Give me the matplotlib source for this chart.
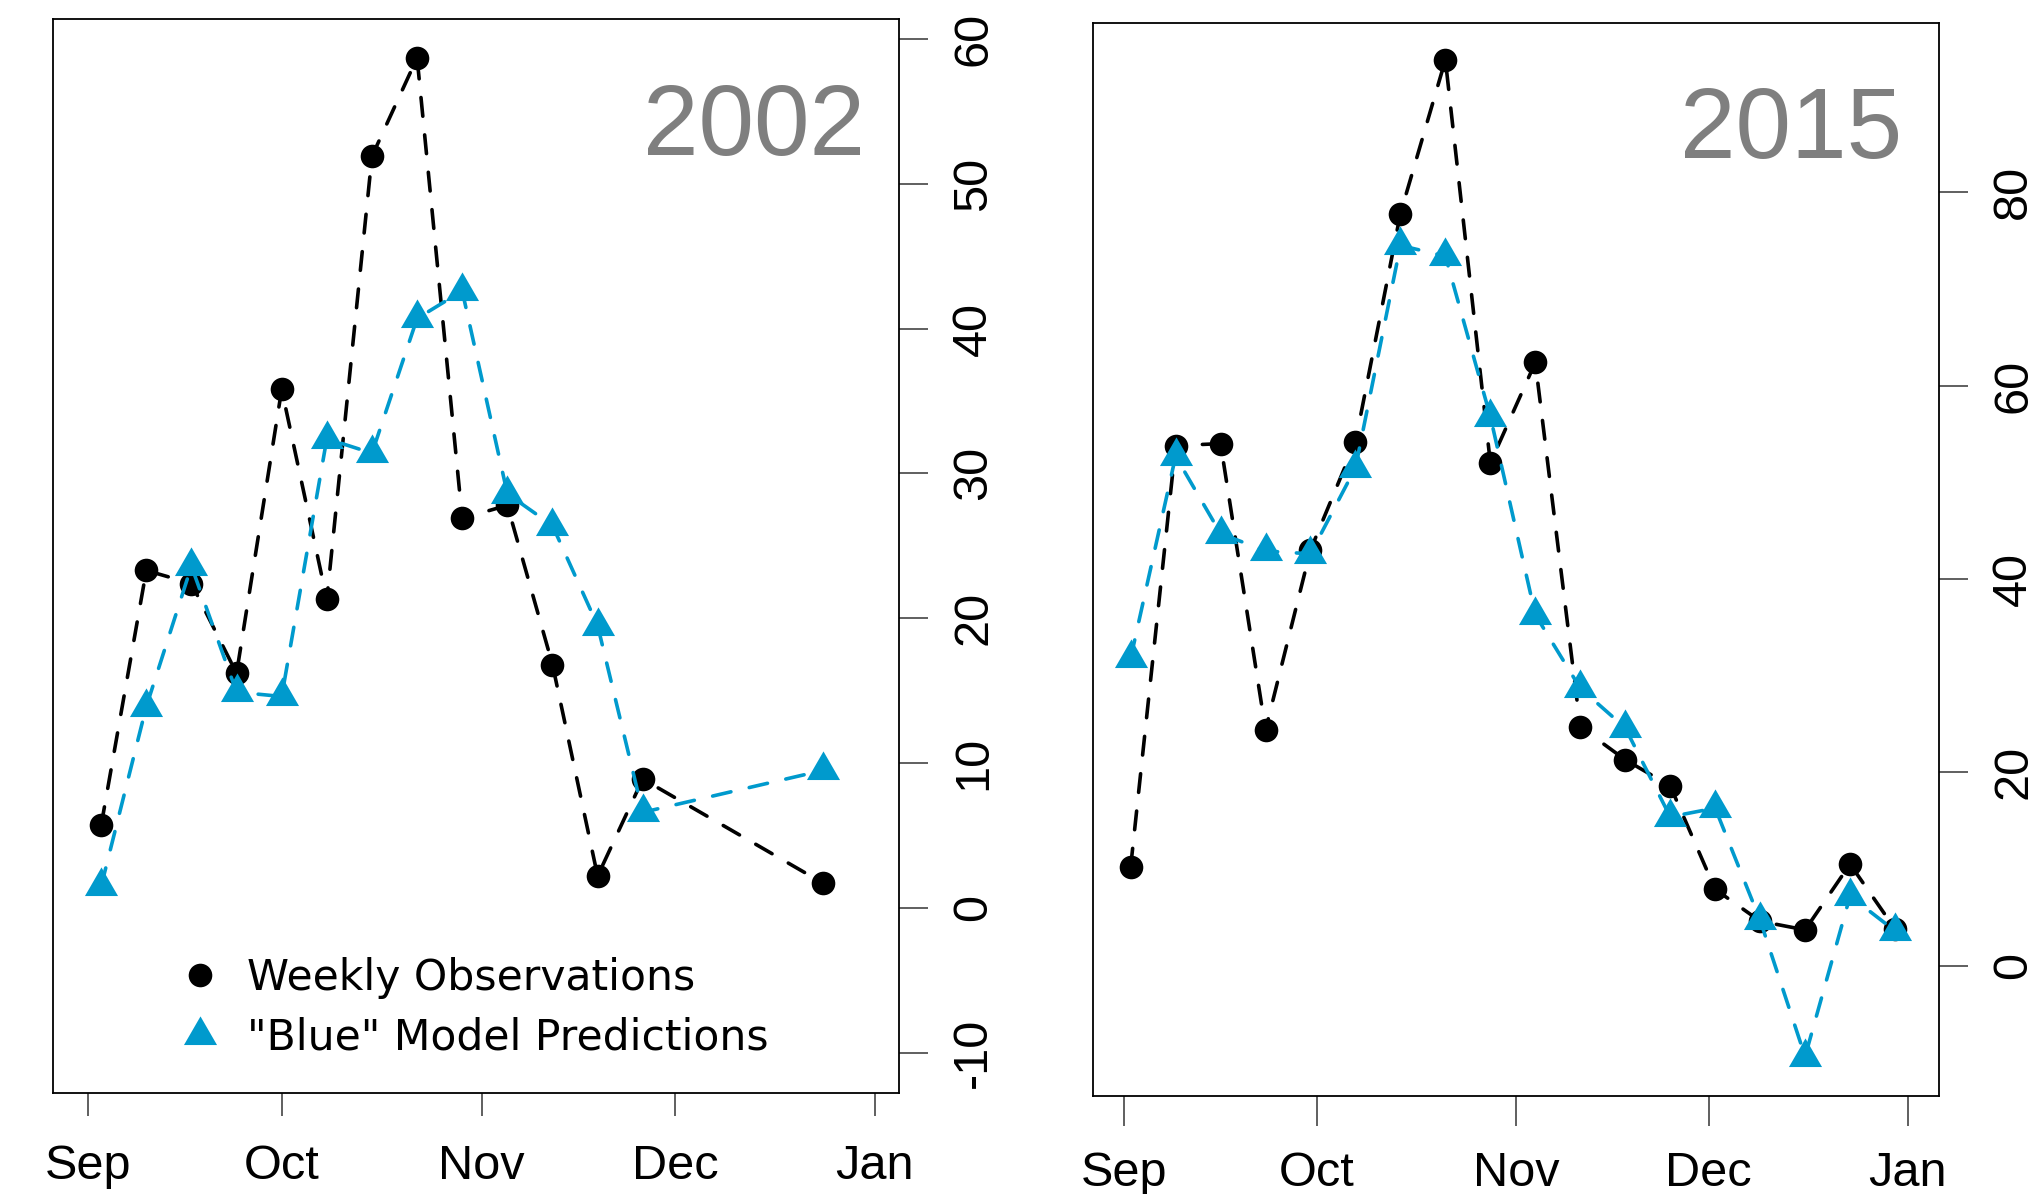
import matplotlib
matplotlib.use("Agg")
import matplotlib.pyplot as plt
import matplotlib.dates as mdates
import numpy as np
from matplotlib.lines import Line2D
from matplotlib.path import Path

plt.rcParams["font.family"] = ["Liberation Sans", "DejaVu Sans"]
plt.rcParams["axes.unicode_minus"] = False

# -----------------------------------------------------------------------------
# Data
# -----------------------------------------------------------------------------
dates_2002 = ["2002-09-03", "2002-09-10", "2002-09-17", "2002-09-24",
              "2002-10-01", "2002-10-08", "2002-10-15", "2002-10-22",
              "2002-10-29", "2002-11-05", "2002-11-12", "2002-11-19",
              "2002-11-26", "2002-12-24"]
obs_2002 = [5.7, 23.3, 22.4, 16.2, 35.8, 21.3, 51.9, 58.7, 26.9, 27.8,
            16.8, 2.2, 8.9, 1.7]
pred_2002 = [1.5, 13.9, 23.6, 14.9, 14.6, 32.4, 31.4, 40.7, 42.6, 28.6,
             26.4, 19.5, 6.6, 9.5]

dates_2015 = ["2015-09-02", "2015-09-09", "2015-09-16", "2015-09-23",
              "2015-09-30", "2015-10-07", "2015-10-14", "2015-10-21",
              "2015-10-28", "2015-11-04", "2015-11-11", "2015-11-18",
              "2015-11-25", "2015-12-02", "2015-12-09", "2015-12-16",
              "2015-12-23", "2015-12-30"]
obs_2015 = [10.2, 53.8, 54.0, 24.4, 43.0, 54.2, 77.8, 93.7, 52.0, 62.4,
            24.7, 21.3, 18.6, 7.9, 4.6, 3.7, 10.5, 3.8]
pred_2015 = [31.8, 52.7, 44.7, 42.9, 42.6, 51.5, 74.5, 73.4, 56.8, 36.3,
             28.7, 24.6, 15.4, 16.3, 4.7, -9.4, 7.2, 3.6]

labels = ["Weekly Observations", '"Blue" Model Predictions']

# -----------------------------------------------------------------------------
# Styles
# -----------------------------------------------------------------------------
BLUE = "#009ACD"
GREY = "#7F7F7F"
# R's pch=17: equilateral triangle centred on its centroid
TRI = Path([(0, 1), (-0.866, -0.5), (0.866, -0.5), (0, 1)], closed=True)
DASH = (0, (5.2, 5.2))

line_kw = dict(ls=DASH, lw=2.6, dash_capstyle="round", mew=0)


def panel(ax, dates, obs, pred, year, yticks, ylim, xlim, xlen, xpad, ypos):
    d = np.array(dates, dtype="datetime64[D]")
    ax.plot(d, obs, color="black", marker="o", ms=17, **line_kw)
    ax.plot(d, pred, color=BLUE, marker=TRI, ms=27.5, **line_kw)

    ax.set_xlim(np.datetime64(xlim[0]), np.datetime64(xlim[1]))
    ax.set_ylim(*ylim)
    ax.xaxis.set_major_locator(mdates.MonthLocator())
    ax.xaxis.set_major_formatter(mdates.DateFormatter("%b"))
    ax.set_yticks(yticks)

    ax.tick_params(axis="x", direction="out", length=xlen, width=1.2,
                   color="#444444", labelsize=35, pad=xpad)
    ax.yaxis.tick_right()
    ax.tick_params(axis="y", direction="out", length=21, width=1.2,
                   color="#444444", labelsize=35, pad=16.5, labelrotation=90)
    plt.setp(ax.get_yticklabels(), va="center")

    for s in ax.spines.values():
        s.set_linewidth(1.3)
        s.set_color("black")

    ax.text(ypos[0], ypos[1], year, transform=ax.transAxes, ha="right",
            va="baseline", fontsize=72, color=GREY)


fig = plt.figure(figsize=(20.34, 11.94), dpi=100)
ax1 = fig.add_axes([0.0259, 0.0846, 0.4161, 0.8995])
ax2 = fig.add_axes([0.5374, 0.0821, 0.4159, 0.8986])

panel(ax1, dates_2002, obs_2002, pred_2002, "2002",
      [-10, 0, 10, 20, 30, 40, 50, 60], (-12.78, 61.38),
      ("2002-08-26T11:30", "2003-01-04T18:00"), 16.5, 20, (0.960, 0.873))
panel(ax2, dates_2015, obs_2015, pred_2015, "2015",
      [0, 20, 40, 60, 80], (-13.48, 97.51),
      ("2015-08-27T03:36", "2016-01-05T20:24"), 21.5, 18, (0.956, 0.874))

handles = [
    Line2D([], [], ls="none", marker="o", color="black", ms=17, mew=0),
    Line2D([], [], ls="none", marker=TRI, color=BLUE, ms=27.5, mew=0),
]
ax1.legend(handles, labels, loc="lower left", bbox_to_anchor=(0.149, 0.0317),
           frameon=False, prop={"family": "DejaVu Sans", "size": 30.6},
           handlelength=1.0, handletextpad=0.6, borderpad=0,
           borderaxespad=0, labelspacing=0.42)

fig.savefig("out.png", dpi=100)
